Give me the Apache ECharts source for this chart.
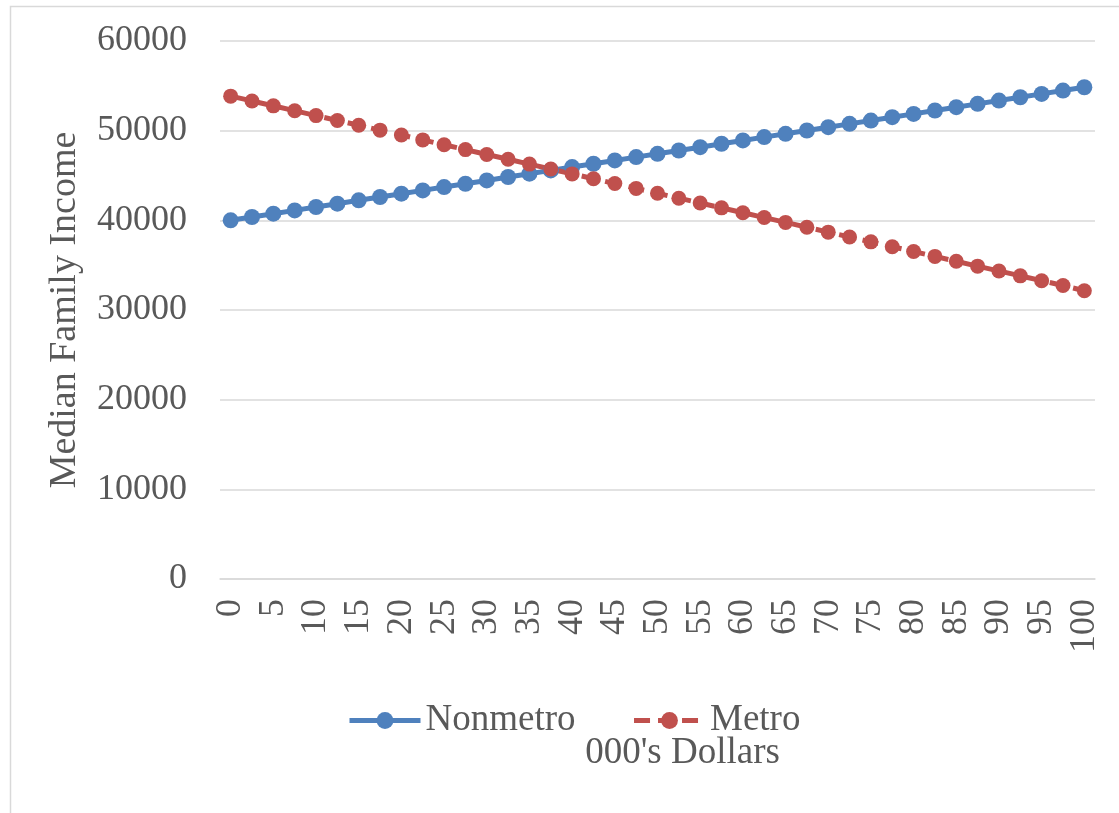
<!DOCTYPE html>
<html>
<head>
<meta charset="utf-8">
<script src="https://cdn.jsdelivr.net/npm/echarts@6/dist/echarts.min.js"></script>
<style>
  html, body { margin: 0; padding: 0; background: #fff; }
  #chart { width: 1119px; height: 813px; }
</style>
</head>
<body>
<div id="chart"></div>
<script>
// Income bands (000's dollars), every 2.5
const categories = ['0','2.5','5','7.5','10','12.5','15','17.5','20','22.5','25','27.5','30','32.5','35','37.5','40','42.5','45','47.5','50','52.5','55','57.5','60','62.5','65','67.5','70','72.5','75','77.5','80','82.5','85','87.5','90','92.5','95','97.5','100'];

const nonmetro = [40000, 40370, 40740, 41110, 41490, 41860, 42230, 42600, 42970, 43340,
                  43710, 44080, 44450, 44830, 45200, 45570, 45940, 46310, 46680, 47050,
                  47420, 47790, 48160, 48540, 48910, 49280, 49650, 50020, 50390, 50760,
                  51130, 51500, 51870, 52250, 52620, 52990, 53360, 53730, 54100, 54470, 54840];

const metro = [53850, 53310, 52770, 52220, 51680, 51140, 50600, 50060, 49520, 48970,
               48430, 47890, 47350, 46810, 46270, 45720, 45180, 44640, 44100, 43560,
               43020, 42470, 41930, 41390, 40850, 40310, 39770, 39230, 38680, 38140,
               37600, 37060, 36520, 35980, 35430, 34890, 34350, 33810, 33270, 32730, 32150];

const yTicks = { min: 0, max: 60000, interval: 10000 };

const serif = '"Liberation Serif", "DejaVu Serif", serif';
const textGray = '#595959';

const chart = echarts.init(document.getElementById('chart'), null, { renderer: 'canvas' });

chart.setOption({
  animation: false,
  backgroundColor: '#ffffff',
  graphic: [{
    type: 'rect',
    shape: { x: 10.5, y: 6.5, width: 1200, height: 900 },
    style: { fill: 'none', stroke: '#d9d9d9', lineWidth: 1.5 },
    silent: true,
    z: -10
  }],
  grid: { left: 220, right: 24, top: 41, bottom: 234, containLabel: false },
  legend: {
    left: 347,
    top: 702,
    padding: 0,
    itemWidth: 71,
    itemHeight: 21,
    itemGap: 56,
    lineStyle: { width: 5 },
    textStyle: { fontFamily: serif, fontSize: 37, color: textGray },
    data: ['Nonmetro', 'Metro']
  },
  xAxis: {
    type: 'category',
    data: categories,
    boundaryGap: true,
    name: "000's Dollars",
    nameLocation: 'middle',
    nameGap: 156,
    nameTextStyle: { fontFamily: serif, fontSize: 37, color: textGray, padding: [0, 0, 0, 50] },
    axisLine: { lineStyle: { color: '#d9d9d9', width: 1.5 } },
    axisTick: { show: false },
    axisLabel: {
      interval: 1,
      rotate: 90,
      margin: 20,
      fontFamily: serif,
      fontSize: 36,
      color: textGray
    },
    splitLine: { show: false }
  },
  yAxis: {
    type: 'value',
    min: yTicks.min,
    max: yTicks.max,
    interval: yTicks.interval,
    name: 'Median Family Income',
    nameLocation: 'middle',
    nameGap: 136,
    nameRotate: 90,
    nameTextStyle: { fontFamily: serif, fontSize: 38, color: textGray },
    axisLine: { show: false },
    axisTick: { show: false },
    axisLabel: {
      margin: 33,
      fontFamily: serif,
      fontSize: 36,
      color: textGray,
      formatter: function (v) { return String(v); }
    },
    splitLine: { lineStyle: { color: '#d9d9d9', width: 1.5 } }
  },
  series: [
    {
      name: 'Nonmetro',
      type: 'line',
      data: nonmetro,
      symbol: 'circle',
      symbolSize: 16,
      showAllSymbol: true,
      itemStyle: { color: '#4F81BD' },
      lineStyle: { color: '#4F81BD', width: 5 }
    },
    {
      name: 'Metro',
      type: 'line',
      data: metro,
      symbol: 'circle',
      symbolSize: 15,
      showAllSymbol: true,
      itemStyle: { color: '#C0504D' },
      lineStyle: { color: '#C0504D', width: 5, type: [16, 8] }
    }
  ]
});
</script>
</body>
</html>
